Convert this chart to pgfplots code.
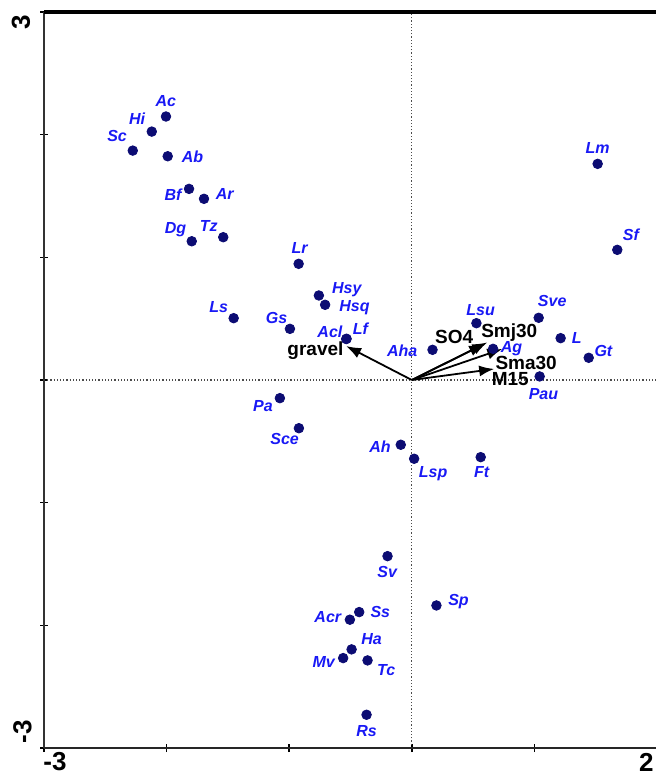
\documentclass[border=0pt]{standalone}
\usepackage{pgfplots}
\pgfplotsset{compat=1.18}
\usepackage{pgfplotstable}
\usepackage{fontspec}
\setmainfont{Liberation Sans}
\usetikzlibrary{arrows.meta}
\definecolor{dotc}{RGB}{12,12,115}
\definecolor{labc}{RGB}{25,25,245}

\pgfplotstableread{
x y name
-2.005 2.148 Ac
-2.121 2.025 Hi
-2.276 1.870 Sc
-1.991 1.824 Ab
-1.817 1.558 Bf
-1.695 1.477 Ar
-1.795 1.131 Dg
-1.538 1.164 Tz
-0.923 0.947 Lr
-0.758 0.689 Hsy
-0.707 0.613 Hsq
-1.453 0.504 Ls
-0.994 0.417 Gs
-0.532 0.336 Lf
-0.535 0.334 Acl
0.169 0.246 Aha
-1.076 -0.148 Pa
-0.921 -0.393 Sce
-0.090 -0.528 Ah
0.019 -0.642 Lsp
0.527 0.463 Lsu
1.035 0.507 Sve
1.214 0.341 L
1.443 0.181 Gt
0.663 0.254 Ag
1.043 0.029 Pau
0.562 -0.629 Ft
1.516 1.762 Lm
1.676 1.061 Sf
-0.198 -1.436 Sv
0.201 -1.838 Sp
-0.429 -1.892 Ss
-0.505 -1.954 Acr
-0.491 -2.196 Ha
-0.560 -2.267 Mv
-0.361 -2.286 Tc
-0.369 -2.729 Rs
}\species

\newcommand{\lab}[3]{\node[labc, font=\fontsize{8}{9}\selectfont\bfseries\itshape, inner sep=0pt] at (axis cs:#1,#2) {#3};}
\newcommand{\vlab}[3]{\node[black, font=\fontsize{9.5}{10}\selectfont\bfseries, inner sep=0pt] at (axis cs:#1,#2) {#3};}

\begin{document}
\begin{tikzpicture}
\useasboundingbox (-22pt,-16pt) rectangle (306pt,374pt);
\begin{axis}[
  at={(0,0)}, anchor=south west,
  scale only axis, width=306.5pt, height=368pt,
  xmin=-3, xmax=2, ymin=-3, ymax=3,
  axis line style={draw=none},
  xtick={-3,-2,...,2}, ytick={-3,-2,...,3},
  xticklabels={}, yticklabels={},
  xtick pos=bottom, ytick pos=left,
  tick align=center, major tick length=4pt,
  tick style={line width=0.8pt, black},
  clip=false,
]
% zero lines
\addplot[densely dotted, line width=0.6pt, black!70] coordinates {(0,-3) (0,3)};
\addplot[densely dotted, line width=0.6pt, black!70] coordinates {(-3,0) (2,0)};
% spines
\draw[line width=1.3pt, black!80] (rel axis cs:0,0) -- (rel axis cs:0,1);
\draw[line width=1.3pt, black!85] (rel axis cs:0,0) -- (rel axis cs:1,0);
\draw[line width=1.7pt, black] (rel axis cs:0,1) -- (rel axis cs:1,1);
% environmental arrows
\addplot[black, line width=0.9pt, -{Latex[length=7.5pt,width=5.5pt]}] coordinates {(0,0) (-0.536,0.277)};
\addplot[black, line width=0.9pt, -{Latex[length=7.5pt,width=5.5pt]}] coordinates {(0,0) (0.590,0.293)};
\addplot[black, line width=0.9pt, -{Latex[length=7.5pt,width=5.5pt]}] coordinates {(0,0) (0.616,0.306)};
\addplot[black, line width=0.9pt, -{Latex[length=7.5pt,width=5.5pt]}] coordinates {(0,0) (0.738,0.253)};
\addplot[black, line width=0.9pt, -{Latex[length=7.5pt,width=5.5pt]}] coordinates {(0,0) (0.672,0.090)};
% species
\addplot[only marks, mark=*, mark size=2.4pt, color=dotc] table[x=x, y=y] {\species};
% species labels
\lab{-2.007}{2.275}{Ac}
\lab{-2.241}{2.129}{Hi}
\lab{-2.404}{1.990}{Sc}
\lab{-1.789}{1.820}{Ab}
\lab{-1.948}{1.512}{Bf}
\lab{-1.927}{1.228}{Dg}
\lab{-1.657}{1.259}{Tz}
\lab{-1.526}{1.518}{Ar}
\lab{-0.915}{1.073}{Lr}
\lab{1.516}{1.888}{Lm}
\lab{1.787}{1.182}{Sf}
\lab{-0.530}{0.740}{Hsy}
\lab{-0.467}{0.587}{Hsq}
\lab{-1.575}{0.591}{Ls}
\lab{-1.103}{0.508}{Gs}
\lab{-0.668}{0.394}{Acl}
\lab{-0.420}{0.420}{Lf}
\lab{-0.079}{0.239}{Aha}
\lab{-1.214}{-0.212}{Pa}
\lab{-1.037}{-0.481}{Sce}
\lab{-0.259}{-0.540}{Ah}
\lab{0.174}{-0.764}{Lsp}
\lab{0.561}{0.573}{Lsu}
\lab{1.145}{0.648}{Sve}
\lab{1.345}{0.342}{L}
\lab{1.563}{0.236}{Gt}
\lab{0.813}{0.254}{Ag}
\lab{1.074}{-0.117}{Pau}
\lab{0.569}{-0.748}{Ft}
\lab{-0.200}{-1.562}{Sv}
\lab{-0.257}{-1.888}{Ss}
\lab{-0.685}{-1.936}{Acr}
\lab{-0.328}{-2.109}{Ha}
\lab{-0.719}{-2.296}{Mv}
\lab{-0.209}{-2.363}{Tc}
\lab{-0.369}{-2.858}{Rs}
\lab{0.381}{-1.807}{Sp}
% vector labels
\vlab{-0.786}{0.236}{gravel}
\vlab{0.346}{0.350}{SO4}
\vlab{0.795}{0.385}{Smj30}
\vlab{0.933}{0.141}{Sma30}
\vlab{0.803}{0.008}{M15}
\end{axis}
% tick labels
\node[rotate=90, font=\fontsize{13}{14}\selectfont\bfseries, inner sep=0pt] at (-11.5pt,363pt) {3};
\node[rotate=90, font=\fontsize{13}{14}\selectfont\bfseries, inner sep=0pt] at (-10.75pt,8pt) {-3};
\node[font=\fontsize{13}{14}\selectfont\bfseries, inner sep=0pt] at (5.5pt,-7pt) {-3};
\node[font=\fontsize{13}{14}\selectfont\bfseries, inner sep=0pt, anchor=east] at (305pt,-7pt) {2};
\end{tikzpicture}
\end{document}
